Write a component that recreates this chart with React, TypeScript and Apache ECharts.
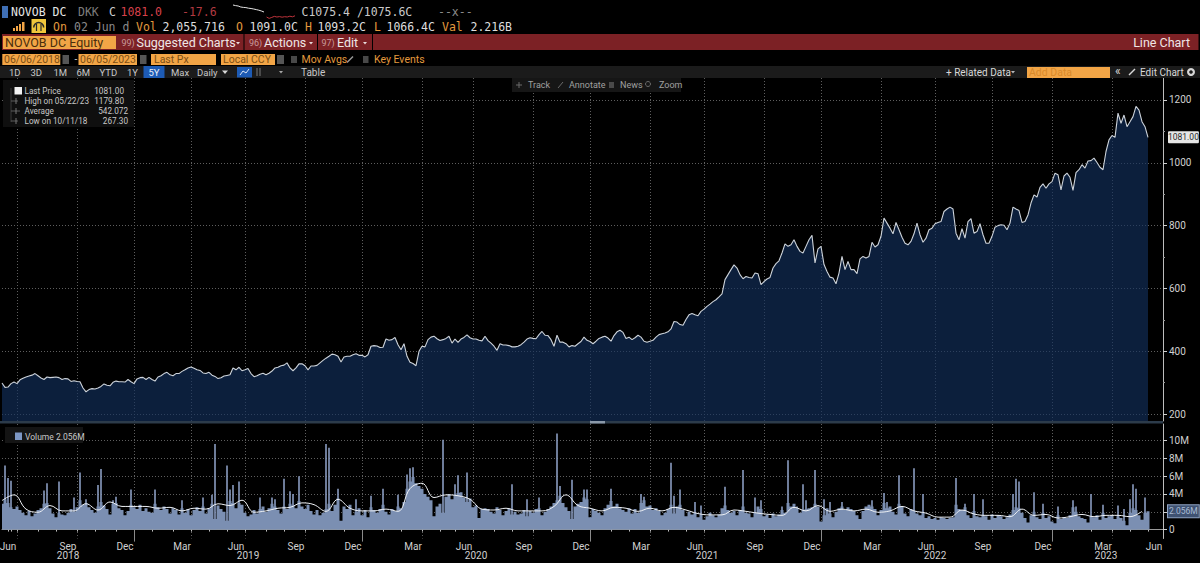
import React, { useEffect, useRef } from "react";
import * as echarts from "echarts";

const quarterNames = ["Jun","Sep","Dec","Mar","Jun","Sep","Dec","Mar","Jun","Sep","Dec","Mar","Jun","Sep","Dec","Mar","Jun","Sep","Dec","Mar","Jun"];
const quarterYears = [2018,2018,2018,2019,2019,2019,2019,2020,2020,2020,2020,2021,2021,2021,2021,2022,2022,2022,2022,2023,2023];
const quarterSpans = [5,20,19,19,18,20,19,20,17,20,19,20,18,20,19,20,18,19,20,20,18];
const yearLabels = ["2018","2019","2020","2021","2022","2023"];
const yearLabelSlots = [22,82,158,235,311,368];
const yearBoundarySlots = [44,120,196,273,350];
const priceTicks = [200,400,600,800,1000,1200];
const priceMinorTicks = [300,500,700,900,1100];
const volumeTicks = [0,2,4,6,8,10];
const volumeLabels = [0,4,6,8,10];

const priceValues = [
299,285,286,297,302,297,309,314,318,321,324,329,322,315,310,318,316,317,318,316,
310,313,312,304,306,304,303,283,271,278,281,280,283,288,296,292,290,301,305,303,
303,302,310,303,297,312,316,317,310,317,310,305,318,322,329,333,325,322,329,329,
336,341,347,350,346,341,339,331,329,333,324,320,313,316,321,323,325,347,341,349,
338,341,345,329,319,322,327,330,325,330,337,347,349,354,356,363,347,338,347,360,
360,354,341,353,353,355,363,371,378,384,391,389,384,366,382,384,384,389,392,387,
387,382,389,416,418,417,412,413,439,435,437,444,421,405,424,384,365,361,354,400,
416,414,437,445,448,440,434,437,441,448,426,439,428,439,444,452,443,439,439,435,
433,448,434,426,416,403,424,420,420,418,414,414,416,421,429,439,443,441,440,453,
463,451,450,437,416,451,429,429,424,414,418,416,424,431,445,435,431,424,432,441,
445,448,442,432,450,462,467,460,441,445,437,443,451,445,432,429,432,435,445,453,
456,458,462,471,495,493,485,483,501,516,520,516,513,527,534,543,550,558,564,573,
583,628,644,660,675,665,644,631,638,635,633,649,647,612,622,630,635,665,679,688,
713,742,734,739,755,734,718,713,734,755,769,681,726,734,676,654,636,633,615,649,
702,660,686,660,660,647,694,702,697,702,747,732,739,766,824,808,792,774,810,787,
763,744,739,750,774,808,771,747,760,787,792,806,810,813,845,853,859,853,776,755,
790,760,813,822,776,781,806,771,744,744,766,795,800,803,801,787,808,859,853,848,
810,813,834,872,898,891,922,933,919,933,940,967,962,914,958,967,954,912,969,978,
994,983,1006,1007,1015,1001,986,978,1036,1073,1087,1081,1158,1126,1152,1115,1131,1147,1179.8,1168,
1131,1115,1081
];

const volumeBase = [
2.9,3.4,3.0,2.5,2.3,2.6,2.2,1.9,1.6,2.1,1.5,1.8,2.2,2.4,2.9,3.0,2.4,1.8,1.4,1.9,1.7,1.6,1.9,2.3,2.0,2.5,3.3,2.8,3.0,2.5,
2.2,1.9,2.6,3.1,2.7,2.3,1.7,2.9,3.0,2.4,2.2,1.6,2.1,2.8,2.5,2.3,2.8,2.1,2.4,2.0,1.9,2.9,2.5,2.2,2.6,2.3,1.8,2.4,2.2,1.7,
2.4,1.9,2.3,1.6,2.2,2.5,2.1,2.6,1.8,2.4,2.9,1.2,2.7,2.3,2.0,1.0,3.2,3.0,2.4,3.0,2.8,1.9,1.5,1.7,2.2,1.8,2.3,2.6,2.0,2.4,
2.9,2.6,2.2,1.8,2.6,2.3,2.9,2.7,2.4,3.2,2.6,2.3,2.8,2.1,1.7,2.2,1.6,1.9,2.3,2.9,2.1,2.8,3.5,1.0,2.6,2.3,2.8,1.6,2.0,2.4,
1.6,2.2,1.4,2.5,2.2,1.9,2.3,2.8,2.0,1.7,2.3,2.1,2.6,2.4,3.1,4.6,5.4,5.9,5.2,4.9,4.6,4.0,3.7,3.3,1.5,2.6,2.9,1.9,3.7,4.0,
3.4,3.9,4.1,4.2,3.6,3.1,3.5,2.5,2.7,1.3,2.3,2.4,2.3,2.0,1.8,2.5,2.2,1.6,2.1,2.4,1.7,2.0,1.7,1.8,2.2,1.5,2.1,1.9,2.3,2.4,
1.6,2.0,2.3,2.6,3.0,3.3,3.8,3.0,2.5,2.1,1.2,2.6,2.9,3.1,3.6,3.4,1.4,2.3,2.1,1.9,1.6,2.4,2.8,3.2,2.6,2.9,2.4,2.2,2.0,2.4,
1.8,2.3,1.9,3.0,3.3,2.6,2.7,2.2,2.4,2.1,1.6,1.9,2.3,2.8,1.8,2.6,2.8,2.2,1.5,2.0,1.7,1.9,1.4,1.7,1.1,1.5,1.9,1.6,1.4,1.7,
2.4,2.7,2.2,1.9,2.1,1.6,2.2,2.6,1.9,1.8,1.4,1.9,2.6,2.3,1.5,1.7,1.3,1.8,1.5,1.7,2.2,1.9,3.0,2.6,2.9,2.4,1.9,2.2,2.3,2.4,
2.5,2.9,2.6,0.9,1.6,2.4,1.8,1.4,2.0,2.4,2.6,2.2,2.5,2.3,2.1,1.6,1.2,2.1,2.6,2.8,2.6,2.3,1.6,2.2,3.0,2.4,2.6,2.0,1.7,2.9,
2.6,1.8,1.5,2.3,2.1,1.8,1.6,1.9,1.3,1.5,1.2,1.3,1.1,1.4,1.3,1.2,1.3,1.4,2.8,2.3,2.2,2.5,1.6,1.3,2.1,1.5,1.4,1.6,1.5,1.1,
1.7,1.3,1.6,1.5,1.2,1.4,1.7,2.2,2.5,2.4,1.9,1.3,0.8,1.6,2.0,1.4,1.2,1.9,1.3,1.5,0.9,0.7,1.6,1.2,1.4,1.3,1.6,2.5,2.0,1.5,
1.3,1.2,0.8,1.5,1.4,1.6,1.1,1.9,1.3,1.5,1.6,1.2,1.5,1.3,1.0,0.5,1.9,2.4,2.2,1.6,1.1,1.9,2.056
];

const spikeSlots = [1,2,3,14,15,19,24,26,28,32,33,37,38,43,51,60,67,70,71,75,76,77,79,86,90,91,94,96,97,99,108,109,112,118,123,127,132,135,136,137,147,151,152,155,170,175,179,185,186,190,194,195,203,213,214,223,224,226,231,233,241,247,251,253,260,262,265,267,268,271,274,276,280,290,294,295,299,304,307,318,321,324,327,337,338,339,344,347,352,357,358,363,367,372,374,376,377,378,381];
const spikeVolumes = [7.2,5.8,5.5,4.4,5.2,5.4,3.6,6.4,3.4,5.0,6.8,3.3,3.7,4.5,4.5,3.3,3.6,3.9,9.6,7.2,4.5,5.0,5.4,3.6,3.6,3.4,5.7,4.3,4.0,6.0,9.6,9.2,4.6,3.4,3.8,4.6,3.9,6.2,6.9,7.0,10.1,5.1,6.1,6.4,5.1,3.4,3.6,10.8,4.9,5.6,4.5,4.5,4.6,4.0,3.7,7.5,3.8,4.5,3.1,2.7,4.8,6.7,3.6,3.3,2.6,7.8,2.6,5.1,3.3,6.7,3.4,3.1,3.1,3.3,4.1,3.1,6.1,6.9,4.0,5.8,2.9,4.0,3.4,4.0,5.7,5.4,4.2,2.9,2.6,3.3,2.6,4.0,2.8,2.7,2.3,3.4,5.1,4.6,3.6];

// sampled every fourth slot
const volumeAverage = [
3.26,3.9,2.3,1.95,2.7,2.1,2.1,2.9,2.2,3.1,2.6,2.6,2.6,2.4,2.5,2.1,2.4,2.3,2.9,2.7,3.3,1.95,2.1,2.4,2.5,3.0,2.8,2.05,3.4,2.4,2.1,2.1,2.3,2.05,
4.6,5.2,3.6,3.9,3.8,3.4,2.3,2.2,2.4,2.1,2.1,2.1,2.6,3.9,2.7,2.4,2.1,2.5,2.4,2.05,2.4,2.1,2.5,2.2,1.8,1.65,1.65,2.2,2.05,1.85,1.7,1.6,2.5,
2.1,2.7,2.05,2.3,2.1,2.3,1.95,2.1,2.6,2.1,1.85,1.4,1.4,2.2,1.75,1.6,1.6,1.45,2.3,1.6,1.7,1.3,1.45,1.7,1.45,1.6,1.6,1.45,2.05
];

const sparkWhite = [15,14.4,14,13,12.6,12.4,11.8,11.5,11,10.4,9.8,9,8,null,null,null,null,null,null,null,null,null,null,null,null];
const sparkRed = [null,null,null,null,null,null,null,null,null,null,null,null,null,3,1.6,2.6,3.6,3,3.4,2.8,3.3,3,3.8,3.2,4.2];

const slotCount = quarterSpans.reduce((a, b) => a + b, 0);
const slots: string[] = [];
const gridSlots = new Set<number>();
const monthSlots = new Set<number>();
const labelSlots = new Map<number, string>();
{
  let start = 0;
  quarterSpans.forEach((span, q) => {
    for (let i = 0; i < span; i++) slots.push(`${quarterYears[q]} ${quarterNames[q]} ${i}`);
    const end = start + span;
    if (end < slotCount) gridSlots.add(end);
    for (let k = 0; k < 3; k++) {
      const m = Math.round(end - (span * k) / 3);
      if (m >= 0 && m < slotCount) monthSlots.add(m);
    }
    labelSlots.set(end - 3, quarterNames[q]);
    start = end;
  });
  labelSlots.delete(slotCount - 3);
  labelSlots.set(384, "Jun");
}
const yearSlotMap = new Map<number, string>(yearLabelSlots.map((s, i) => [s, yearLabels[i]]));
const yearBoundarySet = new Set<number>(yearBoundarySlots);

const pad = (arr: (number | null)[]) => slots.map((_, i) => (i < arr.length ? arr[i] : null));
const spikeSeries = slots.map((_, i) => {
  const k = spikeSlots.indexOf(i);
  return k >= 0 ? spikeVolumes[k] : null;
});
const averageSeries = slots.map((_, i) => (i % 4 === 0 && volumeAverage[i / 4] !== undefined ? volumeAverage[i / 4] : null));
const lastPrice = priceValues[priceValues.length - 1];
const lastVolume = volumeBase[volumeBase.length - 1];

const SANS = "Roboto, 'Liberation Sans', sans-serif";
const MONO = "'DejaVu Sans Mono', monospace";
const ORANGE = "#f2a546";
const ORANGE_TXT = "#e39a3e";
const BOX_TXT = "#7d4f14";
const GRID = "#5e5e5e";

function txt(x: number, y: number, text: string, fill: string, size = 10, family = SANS, align = "left") {
  return { type: "text", x, y, z: 100, silent: true, style: { text, fill, font: `${size}px ${family}`, align, verticalAlign: "middle" } };
}
function box(x: number, y: number, w: number, h: number, fill: string, z = 90) {
  return { type: "rect", z, silent: true, shape: { x, y, width: w, height: h }, style: { fill } };
}
function seg(x1: number, y1: number, x2: number, y2: number, stroke: string, lineWidth = 1) {
  return { type: "line", z: 95, silent: true, shape: { x1, y1, x2, y2 }, style: { stroke, lineWidth } };
}
function caret(x: number, y: number, fill: string, s = 2) {
  return { type: "polygon", z: 95, silent: true, shape: { points: [[x - s, y - s / 2], [x + s, y - s / 2], [x, y + s / 2 + 0.5]] }, style: { fill } };
}
function pencil(x: number, y: number, stroke: string) {
  return seg(x, y + 3, x + 6, y - 3, stroke, 1.5);
}

const header: any[] = [
  box(2, 6, 6, 12, "#3f6fb5"),
  txt(11, 12, "NOVOB DC", "#e6e6e6", 11.5, MONO),
  txt(78, 12, "DKK", "#7d7d7d", 11.5, MONO),
  txt(109, 12, "C", "#cfcfcf", 11.5, MONO),
  txt(120.5, 12, "1081.0", "#d8404a", 11.5, MONO),
  txt(182, 12, "-17.6", "#b23a42", 11.5, MONO),
  txt(301.5, 12, "C1075.4 /1075.6C", "#c9c9c9", 11.5, MONO),
  txt(438, 12, "--x--", "#8a8a8a", 11.5, MONO),
  box(13, 28, 2, 3, ORANGE), box(16, 26, 2, 5, ORANGE), box(19, 24, 2, 7, ORANGE), box(22, 22, 2.5, 9, ORANGE),
  box(31.5, 19, 14.5, 14, "#f0c63c"),
  { type: "arc", z: 95, silent: true, shape: { cx: 38.7, cy: 27.5, r: 5, startAngle: Math.PI, endAngle: 0, clockwise: true }, style: { stroke: "#2a2a2a", lineWidth: 1.5, fill: "none" } },
  seg(36.5, 31, 36.5, 24, "#2a2a2a", 1.2), seg(41, 31, 41, 24, "#2a2a2a", 1.2),
  txt(53, 27, "On", ORANGE_TXT, 11.5, MONO),
  txt(74, 27, "02 Jun d", "#8a8a8a", 11.5, MONO),
  txt(136, 27, "Vol", ORANGE_TXT, 11.5, MONO),
  txt(162.5, 27, "2,055,716", "#dedede", 11.5, MONO),
  txt(236, 27, "O", ORANGE_TXT, 11.5, MONO),
  txt(249.5, 27, "1091.0C", "#dedede", 11.5, MONO),
  txt(305, 27, "H", ORANGE_TXT, 11.5, MONO),
  txt(317.5, 27, "1093.2C", "#dedede", 11.5, MONO),
  txt(374, 27, "L", ORANGE_TXT, 11.5, MONO),
  txt(386.5, 27, "1066.4C", "#dedede", 11.5, MONO),
  txt(442, 27, "Val", ORANGE_TXT, 11.5, MONO),
  txt(470.5, 27, "2.216B", "#dedede", 11.5, MONO),

  box(2, 34, 1196.5, 16, "#7c2125"),
  box(3, 36, 113, 13, ORANGE, 91),
  txt(5, 42.5, "NOVOB DC Equity", "#4a2f0c", 12.5, SANS),
  box(243.5, 34, 1, 16, "#000", 91), box(317, 34, 1, 16, "#000", 91), box(372, 34, 1, 16, "#000", 91),
  txt(121.5, 42.5, "99)", "#c99a9a", 9),
  txt(136.5, 42.5, "Suggested Charts", "#f0e6e6", 12.5),
  caret(238, 43, "#e8dcdc"),
  txt(249, 42.5, "96)", "#c99a9a", 9),
  txt(264, 42.5, "Actions", "#f0e6e6", 12.5),
  caret(311, 43, "#e8dcdc"),
  txt(321.5, 42.5, "97)", "#c99a9a", 9),
  txt(337, 42.5, "Edit", "#f0e6e6", 12.5),
  caret(365, 43, "#e8dcdc"),
  txt(1190, 42.5, "Line Chart", "#f0e6e6", 12.5, SANS, "right"),

  box(2.3, 54, 58, 11, ORANGE), txt(4, 59.5, "06/06/2018", BOX_TXT, 10.5),
  box(62.5, 55, 6.5, 9, "#555"),
  txt(74.5, 59.5, "-", "#cfcfcf", 10),
  box(78.5, 54, 58.5, 11, ORANGE), txt(80, 59.5, "06/05/2023", BOX_TXT, 10.5),
  box(140, 55, 6.5, 9, "#555"),
  box(151, 54, 65, 11, ORANGE), txt(154, 59.5, "Last Px", BOX_TXT, 10.5),
  box(221, 54, 54, 11, ORANGE), txt(223, 59.5, "Local CCY", BOX_TXT, 10.5),
  box(277, 55, 7, 9, "#555"),
  box(291, 56, 6, 7, "#484848"),
  txt(301.5, 59.5, "Mov Avgs", ORANGE_TXT, 10.5),
  pencil(347, 59.5, "#9a9a9a"),
  box(363, 56, 5.5, 7, "#484848"),
  txt(374, 59.5, "Key Events", ORANGE_TXT, 10.5),

  box(0, 66, 1200, 12, "#1b1b1b", 80),
  txt(9, 72, "1D", "#c8c8c8", 9.5), txt(30.5, 72, "3D", "#c8c8c8", 9.5), txt(53.5, 72, "1M", "#c8c8c8", 9.5),
  txt(76.5, 72, "6M", "#c8c8c8", 9.5), txt(99.5, 72, "YTD", "#c8c8c8", 9.5), txt(127, 72, "1Y", "#c8c8c8", 9.5),
  box(143.5, 66, 21, 12, "#1d5bb5"), txt(154, 72, "5Y", "#e8eef8", 9.5, SANS, "center"),
  txt(171, 72, "Max", "#c8c8c8", 9.5), txt(197, 72, "Daily", "#c8c8c8", 9.5), caret(225, 72, "#d8d8d8", 3),
  box(237, 67, 15, 10.5, "#1d5bb5"),
  { type: "polyline", z: 95, silent: true, shape: { points: [[240, 75], [243, 71], [246, 73], [249, 69]] }, style: { stroke: "#dbe6f7", fill: "none", lineWidth: 1 } },
  seg(257, 68, 257, 76, "#7a7a7a"), seg(260, 68, 260, 76, "#7a7a7a"), caret(281, 72, "#a8a8a8"),
  txt(301, 72, "Table", "#c8c8c8", 10),
  txt(946, 72, "+ Related Data", "#d8d8d8", 10), caret(1013, 72, "#b8b8b8"),
  box(1027, 67, 83, 11, ORANGE), txt(1029, 72.5, "Add Data", "#d98a2a", 10.5),
  txt(1115, 71, "«", "#d8d8d8", 12), pencil(1129, 72, "#d8d8d8"), txt(1140, 72, "Edit Chart", "#d8d8d8", 10),
  { type: "ring", z: 95, silent: true, shape: { cx: 1191, cy: 72, r: 4, r0: 1.8 }, style: { fill: "#d8d8d8" } },

  box(512, 78, 169, 14, "#161616"),
  seg(516, 85, 522, 85, "#6a6a6a"), seg(519, 82, 519, 88, "#6a6a6a"), txt(528, 85, "Track", "#a0a0a0", 9),
  seg(558, 88, 563, 82, "#6a6a6a"), txt(569, 85, "Annotate", "#a0a0a0", 9),
  box(609, 82, 5, 6, "#4a4a4a"), txt(620, 85, "News", "#a0a0a0", 9),
  { type: "circle", z: 95, silent: true, shape: { cx: 648, cy: 84, r: 2.5 }, style: { stroke: "#6a6a6a", fill: "none" } },
  txt(659, 85, "Zoom", "#a0a0a0", 9),

  box(3, 80, 131, 47, "#0f0f0f"),
  seg(11, 88, 11, 122, "#3a3a3a"), seg(11, 101, 18, 101, "#5a5a5a"), seg(11, 111, 20, 111, "#5a5a5a"), seg(11, 121, 18, 121, "#5a5a5a"),
  seg(16, 98, 16, 104, "#777"), seg(16, 108, 16, 114, "#777"), seg(16, 118, 16, 124, "#777"),
  box(14.5, 87, 7.5, 7.5, "#f2f2f2"),
  txt(24.5, 91, "Last Price", "#c8c8c8", 8.2), txt(124, 91, "1081.00", "#c8c8c8", 8.2, SANS, "right"),
  txt(24.5, 101, "High on 05/22/23", "#c8c8c8", 8.2), txt(124, 101, "1179.80", "#c8c8c8", 8.2, SANS, "right"),
  txt(24.5, 111, "Average", "#c8c8c8", 8.2), txt(128, 111, "542.072", "#c8c8c8", 8.2, SANS, "right"),
  txt(24.5, 121, "Low on 10/11/18", "#c8c8c8", 8.2), txt(128, 121, "267.30", "#c8c8c8", 8.2, SANS, "right"),

  box(0, 421, 1163, 2.5, "#2c3b4a"),
  box(590, 421, 15, 2.5, "#8a98a8", 91),

  box(5, 427, 78, 16, "#141414"),
  box(15, 432.5, 7, 7.5, "#7d97c4"),
  txt(25, 436.5, "Volume 2.056M", "#c8c8c8", 8.5),
];

export default function App() {
  const ref = useRef<HTMLDivElement>(null);
  useEffect(() => {
    document.body.style.margin = "0";
    document.body.style.background = "#000";
    const chart = echarts.init(ref.current!, undefined, { renderer: "svg" });
    const dotted = { show: true, lineStyle: { color: GRID, type: [1, 2] as any, width: 1 } };
    const vSplit = { ...dotted, interval: (i: number) => gridSlots.has(i) };
    const labelStyle = { color: "#d0d0d0", fontSize: 10, fontFamily: SANS };
    chart.setOption({
      animation: false,
      backgroundColor: "#000",
      graphic: { elements: header },
      grid: [
        { left: 2, right: 37, top: 78, height: 343, outerBoundsMode: "none" },
        { left: 2, right: 37, top: 424, height: 114.5, outerBoundsMode: "none" },
        { left: 233, top: 4, width: 62, height: 16, outerBoundsMode: "none" },
      ],
      xAxis: [
        { type: "category", gridIndex: 0, data: slots, boundaryGap: false, axisLine: { show: false }, axisTick: { show: false }, axisLabel: { show: false }, splitLine: vSplit },
        {
          type: "category", gridIndex: 1, data: slots, boundaryGap: false,
          axisLine: { lineStyle: { color: "#9a9a9a" } },
          axisTick: { length: 2, interval: (i: number) => monthSlots.has(i), lineStyle: { color: "#bdbdbd" } },
          axisLabel: { ...labelStyle, margin: 3, interval: (i: number) => labelSlots.has(i), formatter: (_: string, i: number) => labelSlots.get(i) ?? "" },
          splitLine: vSplit,
        },
        {
          type: "category", gridIndex: 1, data: slots, boundaryGap: false, position: "bottom", offset: 10,
          axisLine: { show: false },
          axisTick: { length: 12, interval: (i: number) => yearBoundarySet.has(i), lineStyle: { color: "#8a8a8a" } },
          axisLabel: { ...labelStyle, margin: 2, interval: (i: number) => yearSlotMap.has(i), formatter: (_: string, i: number) => yearSlotMap.get(i) ?? "" },
          splitLine: { show: false },
        },
        { type: "category", gridIndex: 2, data: sparkWhite.map((_, i) => String(i)), boundaryGap: false, show: false },
      ],
      yAxis: [
        {
          type: "value", gridIndex: 0, position: "right", min: 178, max: 1270, scale: true,
          axisLine: { show: true, lineStyle: { color: "#bdbdbd" } },
          axisTick: { show: true, length: 4, customValues: priceTicks, lineStyle: { color: "#d0d0d0" } },
          axisLabel: { ...labelStyle, margin: 6, customValues: priceTicks, formatter: (v: number) => String(v) },
          splitLine: dotted,
        },
        {
          type: "value", gridIndex: 0, position: "right", min: 178, max: 1270, scale: true,
          axisLine: { show: false },
          axisTick: { show: true, length: 2, customValues: priceMinorTicks, lineStyle: { color: "#9a9a9a" } },
          axisLabel: { color: "#2a2a2a", fontSize: 8.5, fontFamily: SANS, margin: 5, customValues: [lastPrice], backgroundColor: "#e6e6e6", padding: [2, 0, 1, 0], borderRadius: 1, formatter: (v: number) => v.toFixed(2) },
          splitLine: { show: false },
        },
        {
          type: "value", gridIndex: 1, position: "right", min: -1, max: 11.86,
          axisLine: { show: true, lineStyle: { color: "#bdbdbd" } },
          axisTick: { show: true, length: 4, customValues: volumeTicks, lineStyle: { color: "#d0d0d0" } },
          axisLabel: { ...labelStyle, margin: 6, customValues: volumeLabels, formatter: (v: number) => (v === 0 ? "0" : `${v}M`) },
          splitLine: dotted,
        },
        {
          type: "value", gridIndex: 1, position: "right", min: -1, max: 11.86,
          axisLine: { show: false }, axisTick: { show: false },
          axisLabel: { color: "#a9bbd4", fontSize: 8.5, fontFamily: SANS, margin: 5, customValues: [lastVolume], backgroundColor: "#3f5272", padding: [2, 1, 1, 1], borderColor: "#8fa3c2", borderWidth: 1, formatter: (v: number) => `${v.toFixed(3)}M` },
          splitLine: { show: false },
        },
        { type: "value", gridIndex: 2, min: 0, max: 16, show: false },
      ],
      series: [
        {
          name: "Last Price", type: "line", xAxisIndex: 0, yAxisIndex: 0, data: pad(priceValues), showSymbol: false, symbol: "none",
          lineStyle: { color: "#cdd3da", width: 1.1 }, areaStyle: { color: "#12305c", opacity: 0.65 }, z: 3,
        },
        {
          name: "Volume", type: "line", step: "middle", xAxisIndex: 1, yAxisIndex: 2, data: pad(volumeBase), symbol: "none",
          lineStyle: { width: 0, color: "#7b8fb2" }, itemStyle: { color: "#7b8fb2" }, areaStyle: { color: "#7b8fb2", opacity: 1 }, z: 3,
        },
        {
          name: "Volume peaks", type: "bar", xAxisIndex: 1, yAxisIndex: 2, data: spikeSeries, barWidth: 1.6,
          itemStyle: { color: "#8a9cc0" }, z: 2,
        },
        {
          name: "Volume average", type: "line", xAxisIndex: 1, yAxisIndex: 2, data: averageSeries, connectNulls: true, smooth: 0.4, symbol: "none",
          lineStyle: { color: "#eef1f5", width: 1 }, z: 4,
        },
        { name: "Spark", type: "line", xAxisIndex: 3, yAxisIndex: 4, data: sparkWhite, symbol: "none", lineStyle: { color: "#e4e4e4", width: 1 } },
        { name: "Spark low", type: "line", xAxisIndex: 3, yAxisIndex: 4, data: sparkRed, symbol: "none", lineStyle: { color: "#c0343c", width: 1 } },
      ],
    });
    return () => chart.dispose();
  }, []);
  return <div ref={ref} style={{ position: "fixed", left: 0, top: 0, width: 1200, height: 563, background: "#000" }} />;
}
